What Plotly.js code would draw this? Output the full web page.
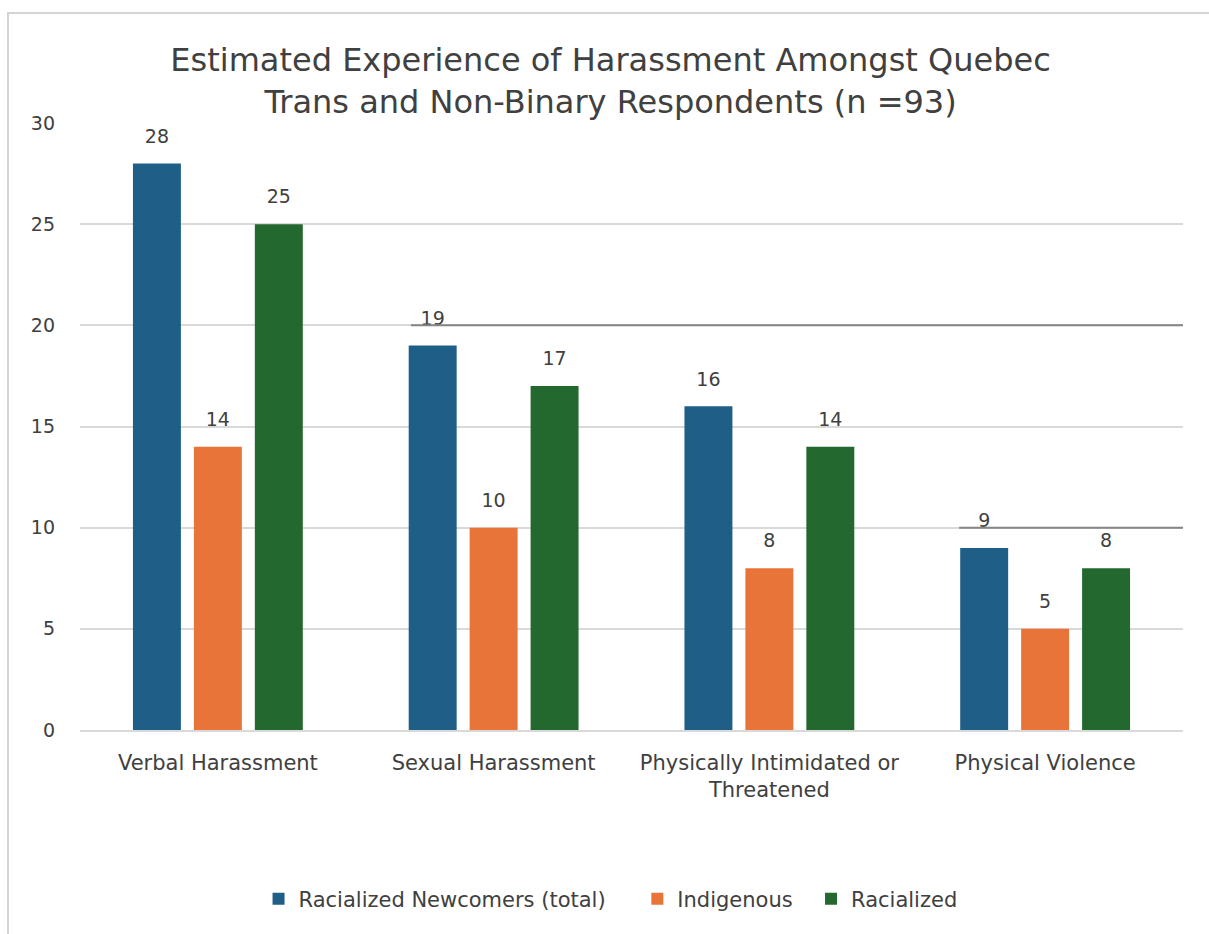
<!DOCTYPE html>
<html><head><meta charset="utf-8">
<script src="https://cdn.plot.ly/plotly-3.0.1.min.js"></script>
<style>
html,body{margin:0;padding:0;background:#fff;}
#chart{width:1209px;height:934px;position:relative;}
#frame{position:absolute;left:7px;top:12px;width:1202px;height:922px;border-top:2px solid #d4d4d4;border-left:2px solid #d4d4d4;pointer-events:none;}
</style></head>
<body>
<div id="chart"></div>
<div id="frame"></div>
<script>
const categories = ["Verbal Harassment", "Sexual Harassment", "Physically Intimidated or<br>Threatened", "Physical Violence"];
const newcomers = [28, 19, 16, 9];
const indigenous = [14, 10, 8, 5];
const racialized = [25, 17, 14, 8];
const seriesNames = ["Racialized Newcomers (total)", "Indigenous", "Racialized"];
const yTicks = [0, 5, 10, 15, 20, 25, 30];

const FONT = "DejaVu Sans, Open Sans, Arial, sans-serif";
const TXT = "#404040";
const colors = ["#1f5f87", "#e8743a", "#23692f"];
const series = [newcomers, indigenous, racialized];
const pads = ["\u00a0\u00a0\u00a0\u00a0", "\u00a0\u00a0", ""];

const bars = series.map((vals, i) => ({
  type: "bar",
  name: seriesNames[i] + pads[i],
  x: categories,
  y: vals,
  marker: {color: colors[i]},
  offsetgroup: String(i),
  hoverinfo: "x+y+name"
}));

const labels = series.map((vals, i) => ({
  type: "scatter",
  mode: "markers+text",
  x: categories,
  y: vals,
  text: vals.map(String),
  textposition: "top center",
  textfont: {size: 19, color: TXT, family: FONT},
  marker: {size: 24, opacity: 0, color: colors[i]},
  offsetgroup: String(i),
  showlegend: false,
  hoverinfo: "skip",
  cliponaxis: false
}));

const layout = {
  width: 1209, height: 934,
  paper_bgcolor: "#ffffff", plot_bgcolor: "#ffffff",
  margin: {l: 80, r: 26, t: 123, b: 204},
  font: {family: FONT, color: TXT, size: 19},
  title: {
    text: "Estimated Experience of Harassment Amongst Quebec<br>Trans and Non-Binary Respondents (n =93)",
    font: {size: 32, color: TXT, family: FONT},
    x: 0.505, xanchor: "center",
    y: 0.924, yanchor: "top", yref: "container"
  },
  barmode: "group",
  bargap: 0.337,
  bargroupgap: 0.213,
  scattermode: "group",
  scattergap: 0.337,
  xaxis: {
    type: "category",
    showgrid: false,
    showline: true, linecolor: "#d9d9d9", linewidth: 1.5,
    ticks: "", ticklabelstandoff: 13,
    tickfont: {size: 21, color: TXT, family: FONT},
    automargin: false
  },
  yaxis: {
    range: [0, 30],
    tickvals: yTicks,
    ticktext: yTicks.map(String),
    showgrid: true, gridcolor: "#d9d9d9", gridwidth: 1.5,
    zeroline: false, showline: false,
    ticks: "", ticklabelstandoff: 24,
    tickfont: {size: 19, color: TXT, family: FONT},
    automargin: false
  },
  showlegend: true,
  legend: {
    orientation: "h",
    x: 0.481, xanchor: "center",
    y: -0.245, yanchor: "top",
    font: {size: 21, color: TXT, family: FONT},
    traceorder: "normal",
    itemwidth: 30
  },
  shapes: [
    {type: "line", xref: "paper", yref: "y", x0: 0.30, x1: 1, y0: 20, y1: 20, line: {color: "#858585", width: 2}, layer: "above"},
    {type: "line", xref: "paper", yref: "y", x0: 0.797, x1: 1, y0: 10, y1: 10, line: {color: "#858585", width: 2}, layer: "above"}
  ]
};

Plotly.newPlot("chart", bars.concat(labels), layout, {displayModeBar: false, responsive: false});
</script>
</body></html>
